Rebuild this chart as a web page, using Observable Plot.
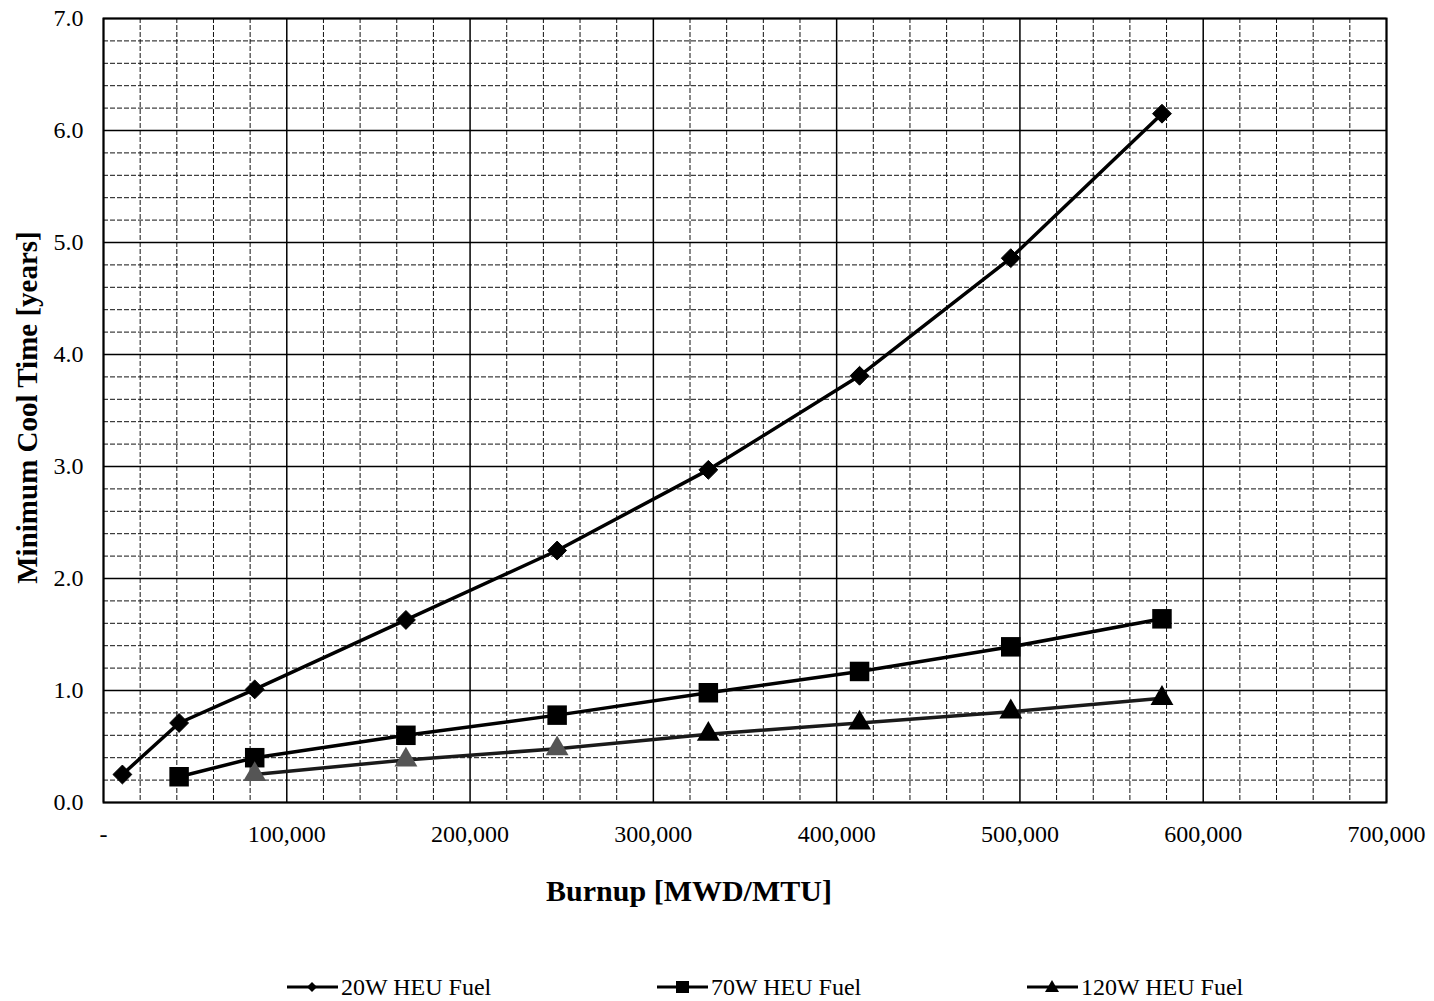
<!DOCTYPE html>
<html>
<head>
<meta charset="utf-8">
<script src="https://cdn.jsdelivr.net/npm/d3@7"></script>
<script src="https://cdn.jsdelivr.net/npm/@observablehq/plot@0.6"></script>
<style>
  html, body { margin: 0; padding: 0; background: #fff; }
  #wrap { width: 1434px; position: relative; font-family: "Liberation Serif", "Times New Roman", serif; }
  #legend { position: relative; width: 1434px; height: 41px; }
  .item { position: absolute; top: 13px; height: 28px; display: flex; align-items: center; font-size: 24px; color: #000; }
  .item svg { margin-right: 3px; }
</style>
</head>
<body>
<div id="wrap">
  <div id="chart"></div>
  <div id="legend"></div>
</div>
<script>
// ---- data ----
const burnup20 = [10312, 41250, 82500, 165000, 247500, 330000, 412500, 495000, 577500];
const cool20   = [0.25, 0.71, 1.01, 1.63, 2.25, 2.97, 3.81, 4.86, 6.15];
const burnup70 = [41250, 82500, 165000, 247500, 330000, 412500, 495000, 577500];
const cool70   = [0.23, 0.40, 0.60, 0.78, 0.98, 1.17, 1.39, 1.64];
const burnup120 = [82500, 165000, 247500, 330000, 412500, 495000, 577500];
const cool120   = [0.25, 0.38, 0.48, 0.61, 0.71, 0.81, 0.93];
const seriesNames = ["20W HEU Fuel", "70W HEU Fuel", "120W HEU Fuel"];
const xLabel = "Burnup [MWD/MTU]";
const yLabel = "Minimum Cool Time [years]";
const xMajorTicks = [0, 100000, 200000, 300000, 400000, 500000, 600000, 700000];
const yMajorTicks = [0, 1, 2, 3, 4, 5, 6, 7];

const toRows = (xs, ys, s) => xs.map((x, i) => ({x, y: ys[i], s, i}));
const d20 = toRows(burnup20, cool20, seriesNames[0]);
const d70 = toRows(burnup70, cool70, seriesNames[1]);
const d120 = toRows(burnup120, cool120, seriesNames[2]);

const xMinor = d3.range(0, 700001, 20000).filter(v => v % 100000 !== 0);
const yMinor = d3.range(0, 36).map(i => +(i * 0.2).toFixed(1)).filter(v => Math.abs(v - Math.round(v)) > 1e-9);

const fontFam = '"Liberation Serif", "Times New Roman", serif';

const chart = Plot.plot({
  width: 1434,
  height: 960,
  marginTop: 18,
  marginLeft: 103,
  marginRight: 48,
  marginBottom: 158,
  style: {fontFamily: fontFam, fontSize: "24px", color: "#000", background: "#fff"},
  x: {domain: [0, 700000]},
  y: {domain: [0, 7]},
  marks: [
    Plot.ruleX(xMinor, {stroke: "#111", strokeWidth: 1, strokeDasharray: "5,2"}),
    Plot.ruleY(yMinor, {stroke: "#111", strokeWidth: 1, strokeDasharray: "5,2"}),
    Plot.ruleX(xMajorTicks, {stroke: "#000", strokeWidth: 1.5}),
    Plot.ruleY(yMajorTicks, {stroke: "#000", strokeWidth: 1.5}),
    Plot.frame({stroke: "#000", strokeWidth: 2}),
    Plot.axisX({ticks: xMajorTicks, tickSize: 0, tickPadding: 22, label: null,
      tickFormat: d => d === 0 ? "-" : d3.format(",")(d), fontSize: 24}),
    Plot.axisY({ticks: yMajorTicks, tickSize: 0, tickPadding: 20, label: null,
      tickFormat: d3.format(".1f"), fontSize: 24}),
    Plot.line(d20, {x: "x", y: "y", stroke: "#000", strokeWidth: 3.5}),
    Plot.line(d70, {x: "x", y: "y", stroke: "#000", strokeWidth: 3.5}),
    Plot.line(d120, {x: "x", y: "y", stroke: "#1a1a1a", strokeWidth: 3.5}),
    Plot.dot(d20, {x: "x", y: "y", symbol: "diamond2", r: 8.5, fill: "#000", stroke: "#000", strokeWidth: 1}),
    Plot.dot(d70, {x: "x", y: "y", symbol: "square", r: 11, fill: "#000", stroke: "#000", strokeWidth: 0}),
    Plot.dot(d120, {x: "x", y: "y", symbol: "triangle", r: 8.5,
      fill: d => d.i < 3 ? "#555" : "#000", stroke: "none"}),
    Plot.text([xLabel], {frameAnchor: "bottom", dx: -56, dy: 98, fontWeight: "bold", fontSize: 30, fill: "#000"}),
    Plot.text([yLabel], {frameAnchor: "left", textAnchor: "middle", dx: -76, dy: -3, rotate: -90, fontWeight: "bold", fontSize: 29, fill: "#000"})
  ]
});
document.getElementById("chart").appendChild(chart);

// ---- legend ----
const legendPos = [287, 657, 1027];
const symbols = [
  '<path d="M6,0 L11,-5 L16,0 L11,5 Z" transform="translate(14,0)"/>',
  '<rect x="19" y="-6" width="13" height="12"/>',
  '<path d="M25,-7 L32,5 L18,5 Z"/>'
];
const legend = document.getElementById("legend");
seriesNames.forEach((name, i) => {
  const div = document.createElement("div");
  div.className = "item";
  div.style.left = legendPos[i] + "px";
  div.innerHTML = `<svg width="51" height="16" viewBox="0 -8 51 16"><line x1="0" y1="0" x2="51" y2="0" stroke="#000" stroke-width="3"/><g fill="#000">${symbols[i]}</g></svg><span>${name}</span>`;
  legend.appendChild(div);
});
</script>
</body>
</html>
